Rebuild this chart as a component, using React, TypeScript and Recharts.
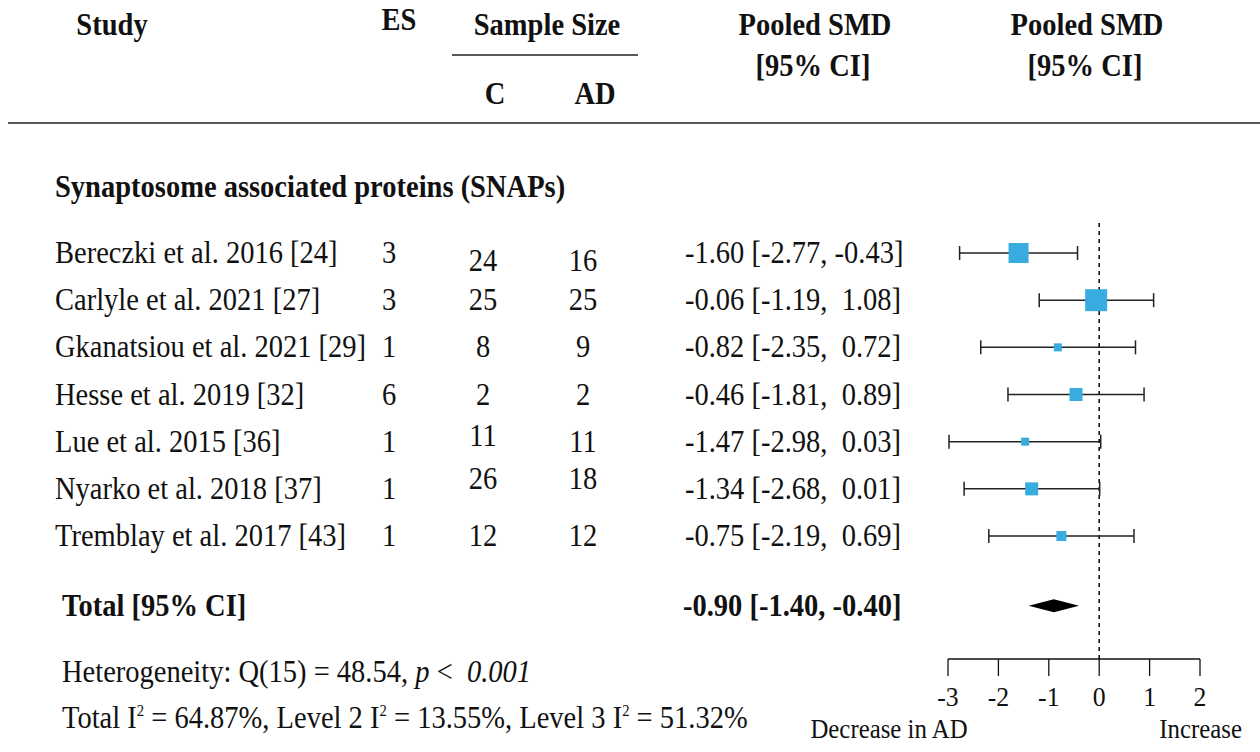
import React from "react";
import {
  ComposedChart,
  Scatter,
  ErrorBar,
  XAxis,
  YAxis,
  ReferenceLine,
  Customized,
} from "recharts";

const studies = [
  "Bereczki et al. 2016 [24]",
  "Carlyle et al. 2021 [27]",
  "Gkanatsiou et al. 2021 [29]",
  "Hesse et al. 2019 [32]",
  "Lue et al. 2015 [36]",
  "Nyarko et al. 2018 [37]",
  "Tremblay et al. 2017 [43]",
];
const effectSizes = [3, 3, 1, 6, 1, 1, 1];
const nControl = [24, 25, 8, 2, 11, 26, 12];
const nAD = [16, 25, 9, 2, 11, 18, 12];
const smd = [-1.6, -0.06, -0.82, -0.46, -1.47, -1.34, -0.75];
const ciLow = [-2.77, -1.19, -2.35, -1.81, -2.98, -2.68, -2.19];
const ciHigh = [-0.43, 1.08, 0.72, 0.89, 0.03, 0.01, 0.69];
const weights = [20, 22, 8, 13, 8, 13, 10];

const totalEst = -0.9;
const totalLow = -1.4;
const totalHigh = -0.4;

const xTicks = [-3, -2, -1, 0, 1, 2];

// layout
const FONT = "'Liberation Serif', 'Times New Roman', serif";
const FS = 31;
const SX = 0.92; // the original type is a narrow Times
const SX_BOLD = 0.92;
const TOTAL_ROW = 8.48;
// small vertical nudges of the sample size cells seen in the original
const cNudge = [8, 0, 0, 0, -6, -10, 0];
const adNudge = [8, 0, 0, 0, 0, -10, 0];

const fmt = (v: number) => v.toFixed(2);
const ciText = (e: number, lo: number, hi: number) =>
  `${fmt(e)} [${fmt(lo)}, ${hi >= 0 ? " " : ""}${fmt(hi)}]`;

const rows = studies.map((name, i) => ({
  name,
  x: smd[i],
  y: i + 1,
  err: [smd[i] - ciLow[i], ciHigh[i] - smd[i]],
  w: weights[i],
  es: effectSizes[i],
  c: nControl[i],
  ad: nAD[i],
  label: ciText(smd[i], ciLow[i], ciHigh[i]),
  i,
}));

const totalPts = [
  { x: totalLow, y: TOTAL_ROW },
  { x: totalEst, y: TOTAL_ROW },
  { x: totalHigh, y: TOTAL_ROW },
];

function T({
  x,
  y,
  anchor = "start",
  bold = false,
  size = FS,
  sx,
  children,
}: {
  x: number;
  y: number;
  anchor?: "start" | "middle" | "end";
  bold?: boolean;
  size?: number;
  sx?: number;
  children: React.ReactNode;
}) {
  const k = sx ?? (bold ? SX_BOLD : SX);
  return (
    <text
      transform={`translate(${x},${y}) scale(${k},1)`}
      textAnchor={anchor}
      style={{
        fontFamily: FONT,
        fontSize: size,
        fontWeight: bold ? "bold" : "normal",
        fill: "#111",
        whiteSpace: "pre",
      }}
    >
      {children}
    </text>
  );
}

function RowShape(props: any) {
  const { cx, cy, payload } = props;
  const s = payload.w;
  const base = cy + 10;
  return (
    <g>
      <rect x={cx - s / 2} y={cy - s / 2} width={s} height={s} fill="#38ABE0" />
      <T x={55} y={base}>{payload.name}</T>
      <T x={389} y={base} anchor="middle">{payload.es}</T>
      <T x={483} y={base + cNudge[payload.i]} anchor="middle">{payload.c}</T>
      <T x={583} y={base + adNudge[payload.i]} anchor="middle">{payload.ad}</T>
      <T x={685} y={base}>{payload.label}</T>
    </g>
  );
}

function Diamond(props: any) {
  const pts = props.points;
  if (!pts || pts.length < 3) return null;
  const [lo, mid, hi] = pts;
  const h = 6.5;
  const d = `M${lo.x},${lo.y} L${mid.x},${mid.y - h} L${hi.x},${hi.y} L${mid.x},${mid.y + h} Z`;
  const base = mid.y + 10;
  return (
    <g>
      <path d={d} fill="#000" stroke="none" />
      <T x={62} y={base} bold>Total [95% CI]</T>
      <T x={683} y={base} bold>{ciText(totalEst, totalLow, totalHigh)}</T>
    </g>
  );
}

function Tick(props: any) {
  const { x, y, payload } = props;
  return (
    <T x={x} y={y + 30} anchor="middle" size={28}>
      {payload.value}
    </T>
  );
}

function TableText() {
  return (
    <g>
      <T x={112} y={35} anchor="middle" bold>Study</T>
      <T x={399} y={30} anchor="middle" bold>ES</T>
      <T x={547} y={35} anchor="middle" bold>Sample Size</T>
      <line x1={452} x2={638} y1={55} y2={55} stroke="#222" strokeWidth={1.5} />
      <T x={495} y={104} anchor="middle" bold>C</T>
      <T x={595} y={104} anchor="middle" bold>AD</T>
      <T x={815} y={35} anchor="middle" bold>Pooled SMD</T>
      <T x={813} y={76} anchor="middle" bold>[95% CI]</T>
      <T x={1087} y={35} anchor="middle" bold>Pooled SMD</T>
      <T x={1085} y={76} anchor="middle" bold>[95% CI]</T>
      <line x1={8} x2={1260} y1={123} y2={123} stroke="#222" strokeWidth={1.5} />

      <T x={55} y={197} bold>Synaptosome associated proteins (SNAPs)</T>

      <T x={62} y={682}>
        Heterogeneity: Q(15) = 48.54,{" "}
        <tspan fontStyle="italic">p</tspan>
        {" <  "}
        <tspan fontStyle="italic">0.001</tspan>
      </T>
      <T x={62} y={728}>
        Total I<tspan dy={-12} fontSize={16}>2</tspan>
        <tspan dy={12}> = 64.87%, Level 2 I</tspan>
        <tspan dy={-12} fontSize={16}>2</tspan>
        <tspan dy={12}> = 13.55%, Level 3 I</tspan>
        <tspan dy={-12} fontSize={16}>2</tspan>
        <tspan dy={12}> = 51.32%</tspan>
      </T>

      <T x={889} y={738} anchor="middle" size={27}>Decrease in AD</T>
      <T x={1242} y={738} anchor="end" size={27}>Increase</T>
    </g>
  );
}

export default function App() {
  return (
    <div style={{ position: "absolute", left: 0, top: 0, background: "#fff" }}>
      <ComposedChart
        width={1260}
        height={752}
        margin={{ top: 220, right: 60, left: 948, bottom: 33 }}
      >
        <XAxis
          type="number"
          dataKey="x"
          domain={[-3, 2]}
          ticks={xTicks}
          height={60}
          tickSize={17}
          tickMargin={0}
          stroke="#111"
          strokeWidth={1.3}
          tick={<Tick />}
        />
        <YAxis type="number" dataKey="y" domain={[0.3, 9.607]} reversed hide />
        <ReferenceLine x={0} stroke="#111" strokeDasharray="4 4" strokeWidth={1.6} />
        <Scatter data={rows} shape={() => <g />} isAnimationActive={false}>
          <ErrorBar
            dataKey="err"
            direction="x"
            width={7}
            stroke="#222"
            strokeWidth={1.5}
            isAnimationActive={false}
          />
        </Scatter>
        <Scatter data={rows} shape={RowShape} isAnimationActive={false} />
        <Scatter
          data={totalPts}
          shape={() => <g />}
          line={Diamond}
          lineType="joint"
          isAnimationActive={false}
        />
        <Customized component={TableText} />
      </ComposedChart>
    </div>
  );
}
